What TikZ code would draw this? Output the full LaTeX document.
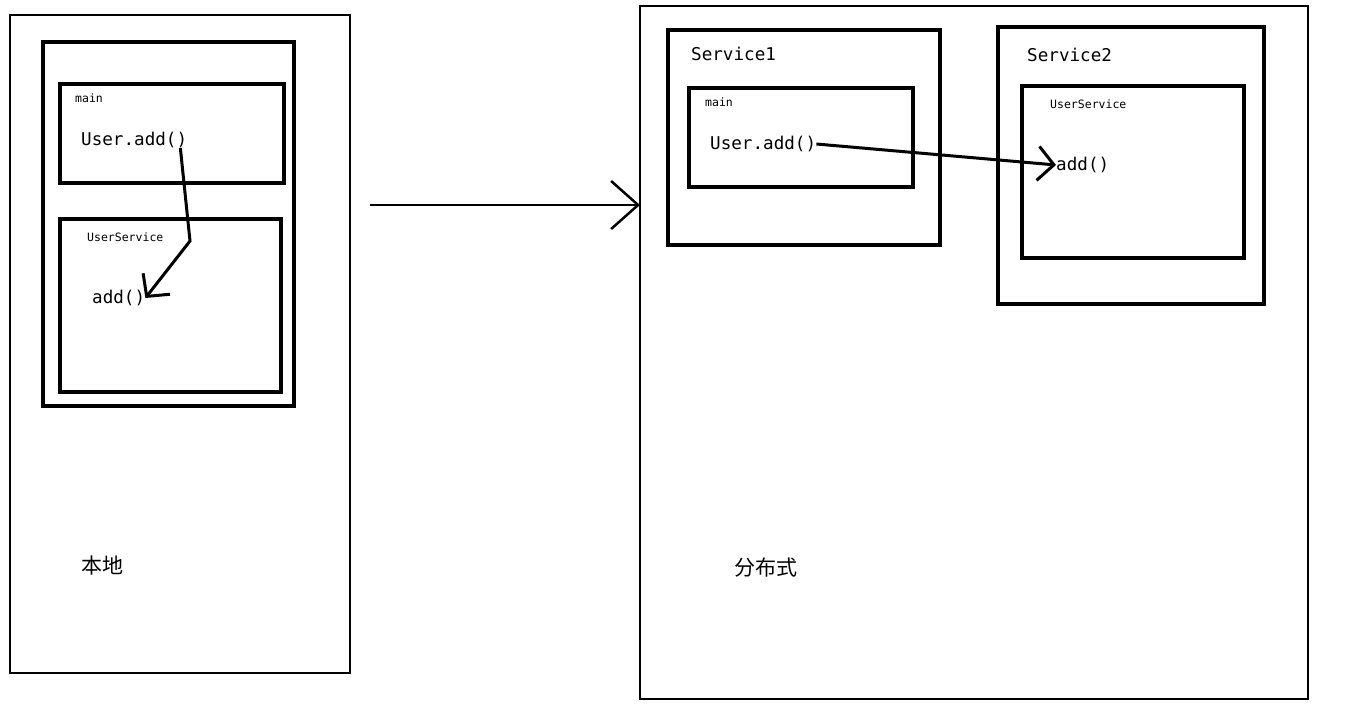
\documentclass[tikz,border=0pt]{standalone}
\usepackage{fontspec}
\setmonofont{DejaVu Sans Mono}
\newfontfamily\cjk{Noto Sans CJK SC}
\usetikzlibrary{positioning,arrows.meta}

\tikzset{
  frame/.style={draw,line width=2pt,anchor=north west,inner sep=0pt,outer sep=0pt},
  box/.style={draw,line width=4.5pt,anchor=north west,inner sep=0pt,outer sep=0pt},
  code/.style={font=\ttfamily\fontsize{17.6}{20}\selectfont,anchor=west,inner sep=0pt},
  tag/.style={font=\ttfamily\fontsize{11.5}{13}\selectfont,anchor=west,inner sep=0pt},
  zh/.style={font=\cjk\fontsize{21}{24}\selectfont,anchor=west,inner sep=0pt},
  call/.style={line width=3pt,-{Straight Barb[length=16pt,width=34pt,line width=3pt]}},
  bigarrow/.style={line width=2.5pt,-{Straight Barb[length=27pt,width=48pt,line width=2.5pt]}}
}

\begin{document}
\begin{tikzpicture}[x=1pt,y=-1pt]
\useasboundingbox (0,0) rectangle (1370,715);
% local
\node[frame,minimum width=340,minimum height=658] (local) at (10,15) {};
\node[box,minimum width=251,minimum height=364] (app) at (43,42) {};
\node[box,minimum width=224,minimum height=99] (main1) at (60,84) {};
\node[box,minimum width=221,minimum height=173] (svc1) at (60,219) {};
\node[tag] (main1lbl) at (75,98) {main};
\node[code] (call1) at (81,140) {User.add()};
\node[tag] (svc1lbl) at (87,237) {UserService};
\node[code] (impl1) at (92,298) {add()};
\node[zh] (locallbl) at (81,566) {本地};
\coordinate (bend1) at (190,241);
\draw[call] ([xshift=-7pt]call1.south east) -- (bend1) -- (impl1.east);

% distributed
\node[frame,minimum width=668,minimum height=693] (dist) at (640,6) {};
\node[box,minimum width=272,minimum height=215] (service1) at (668,30) {};
\node[box,minimum width=224,minimum height=99] (main2) at (689,88) {};
\node[box,minimum width=266,minimum height=277] (service2) at (998,27) {};
\node[box,minimum width=222,minimum height=172] (svc2) at (1022,86) {};
\node[code] (s1lbl) at (691,54) {Service1};
\node[code] (s2lbl) at (1027,55) {Service2};
\node[tag] (main2lbl) at (705,102) {main};
\node[code] (call2) at (710,144) {User.add()};
\node[tag] (svc2lbl) at (1050,104) {UserService};
\node[code] (impl2) at (1056,165) {add()};
\node[zh] (distlbl) at (734,568) {分布式};
\draw[call] (call2.east) -- (impl2.west);

% local -> distributed
\coordinate (from) at (370,205);
\draw[bigarrow] (from) -- (from -| dist.west);
\end{tikzpicture}
\end{document}
